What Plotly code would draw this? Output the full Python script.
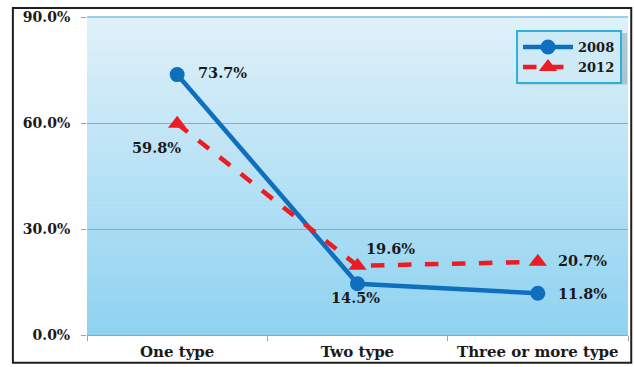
import plotly.graph_objects as go

# Share of respondents by number of types held
categories = ["One type", "Two type", "Three or more type"]
values_2008 = [73.7, 14.5, 11.8]
values_2012 = [59.8, 19.6, 20.7]
y_ticks = [0, 30, 60, 90]
y_tick_labels = ["0.0%", "30.0%", "60.0%", "90.0%"]

BLUE = "#0f6fbf"
RED = "#ec1c24"
SERIF = "DejaVu Serif"

fig = go.Figure()

fig.add_trace(go.Scatter(
    x=categories, y=values_2008, name="2008", mode="lines+markers",
    line=dict(color=BLUE, width=4.5),
    marker=dict(symbol="circle", size=15, color=BLUE),
))
fig.add_trace(go.Scatter(
    x=categories, y=values_2012, name="2012", mode="lines+markers",
    line=dict(color=RED, width=4.5, dash="dash"),
    marker=dict(symbol="triangle-up", size=16, color=RED),
))

# value labels, offset from each point
offsets_2008 = [(45, 2), (-2, -14), (45, 0)]
offsets_2012 = [(-21, -24), (33, 17), (45, 1)]
annotations = []
for vals, offs in ((values_2008, offsets_2008), (values_2012, offsets_2012)):
    for cat, v, (dx, dy) in zip(categories, vals, offs):
        annotations.append(dict(
            x=cat, y=v, xref="x", yref="y", text=f"<b>{v:.1f}%</b>", showarrow=False,
            xshift=dx, yshift=dy,
            font=dict(family=SERIF, size=14.5, color="#1a1a1a"),
        ))

# vertical gradient background for the plotting area
top = (0xe0, 0xf1, 0xfa)
bottom = (0x8e, 0xd2, 0xf0)
n = 80
shapes = []
for i in range(n):
    t = (i + 0.5) / n
    c = tuple(round(bottom[k] + (top[k] - bottom[k]) * t) for k in range(3))
    shapes.append(dict(
        type="rect", xref="x domain", yref="y domain",
        x0=0, x1=1, y0=i / n, y1=(i + 1) / n + 0.002,
        fillcolor="rgb(%d,%d,%d)" % c, line=dict(width=0), layer="below",
    ))
# top edge of plotting area
shapes.append(dict(type="line", xref="x domain", yref="y domain", x0=0, x1=1, y0=1, y1=1,
                   line=dict(color="#7fc6e2", width=1.5), layer="above"))
# legend shadow
shapes.append(dict(type="rect", xref="paper", yref="paper",
                   x0=0.799, x1=0.9985, y0=0.788, y1=0.95,
                   fillcolor="rgba(90,130,150,0.35)", line=dict(width=0), layer="above"))
# outer frame
shapes.append(dict(type="rect", xref="paper", yref="paper",
                   x0=-0.137, x1=1.006, y0=-0.087, y1=1.028,
                   line=dict(color="#1e1e1e", width=2), fillcolor="rgba(0,0,0,0)", layer="above"))

fig.update_layout(
    width=634, height=367,
    margin=dict(l=87, r=6, t=17, b=30),
    paper_bgcolor="white", plot_bgcolor="rgba(0,0,0,0)",
    showlegend=True,
    legend=dict(
        x=0.793, y=0.959, xanchor="left", yanchor="top",
        bgcolor="#cfeaf7", bordercolor="#2fb0d6", borderwidth=2,
        font=dict(family=SERIF, size=13, color="#1a1a1a", weight="bold"),
        itemwidth=50, tracegroupgap=0,
    ),
    annotations=annotations,
    shapes=shapes,
    xaxis=dict(
        type="category", range=[-0.5, 2.5], showgrid=False,
        showline=True, linecolor="#9aa3a8", linewidth=1,
        ticks="outside", tickson="boundaries", ticklen=5, tickcolor="#9aa3a8",
        tickfont=dict(family=SERIF, size=15, color="#1a1a1a", weight="bold"),
        ticklabelstandoff=3,
    ),
    yaxis=dict(
        range=[0, 90], tickvals=y_ticks, ticktext=y_tick_labels,
        showgrid=True, gridcolor="#9ea6ab", gridwidth=1, zeroline=False,
        showline=False,
        ticks="outside", ticklen=5, tickcolor="#9aa3a8",
        tickfont=dict(family=SERIF, size=14, color="#1a1a1a", weight="bold"),
        ticklabelstandoff=8,
    ),
)

fig.write_html("out.html")
